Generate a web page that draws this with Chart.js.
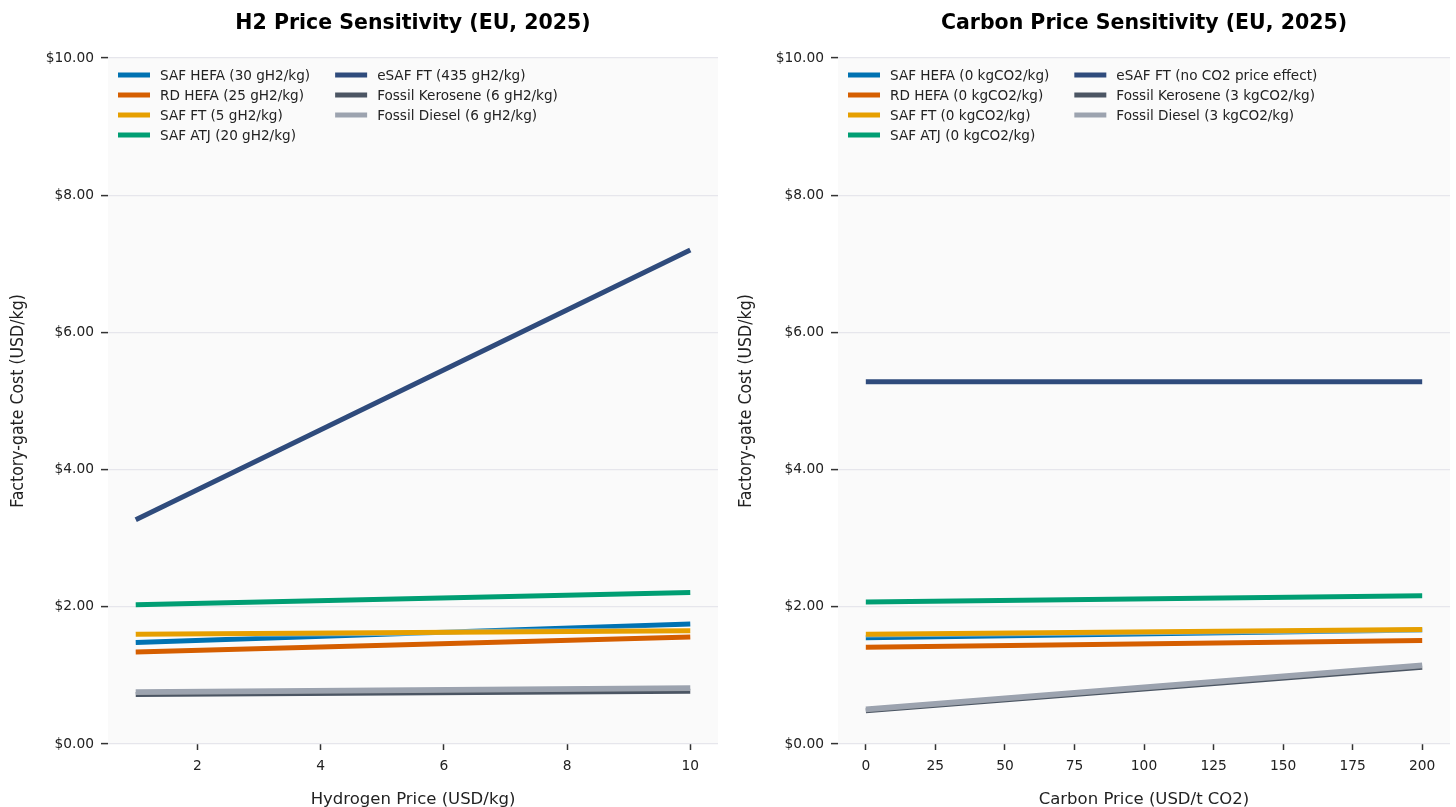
<!DOCTYPE html>
<html>
<head>
<meta charset="utf-8">
<title>H2 and Carbon Price Sensitivity</title>
<script src="https://cdn.jsdelivr.net/npm/chart.js@4.4.1/dist/chart.umd.min.js"></script>
<style>
  html, body { margin: 0; padding: 0; background: #ffffff; }
  #wrap { position: relative; width: 1456px; height: 807px; }
  canvas { position: absolute; top: 0; }
  #h2Chart { left: 0; }
  #co2Chart { left: 728px; }
</style>
</head>
<body>
<div id="wrap">
  <canvas id="h2Chart" width="728" height="807"></canvas>
  <canvas id="co2Chart" width="728" height="807"></canvas>
</div>
<script>
// Pathway names and colours
const pathways = ['SAF HEFA', 'RD HEFA', 'SAF FT', 'SAF ATJ', 'eSAF FT', 'Fossil Kerosene', 'Fossil Diesel'];
const colors = ['#0072B2', '#D55E00', '#E69F00', '#009E73', '#2F4B7C', '#4B5563', '#9CA3AF'];

// H2 sensitivity: legend labels, x points (USD/kg H2) and costs (USD/kg)
const h2Labels = ['SAF HEFA (30 gH2/kg)', 'RD HEFA (25 gH2/kg)', 'SAF FT (5 gH2/kg)', 'SAF ATJ (20 gH2/kg)',
                  'eSAF FT (435 gH2/kg)', 'Fossil Kerosene (6 gH2/kg)', 'Fossil Diesel (6 gH2/kg)'];
const h2Prices = [1, 10];
const h2SafHefa = [1.48, 1.75];
const h2RdHefa = [1.34, 1.56];
const h2SafFt = [1.60, 1.65];
const h2SafAtj = [2.03, 2.21];
const h2Esaf = [3.27, 7.20];
const h2Kerosene = [0.72, 0.77];
const h2Diesel = [0.76, 0.82];

// Carbon sensitivity: legend labels, x points (USD/t CO2) and costs (USD/kg)
const co2Labels = ['SAF HEFA (0 kgCO2/kg)', 'RD HEFA (0 kgCO2/kg)', 'SAF FT (0 kgCO2/kg)', 'SAF ATJ (0 kgCO2/kg)',
                   'eSAF FT (no CO2 price effect)', 'Fossil Kerosene (3 kgCO2/kg)', 'Fossil Diesel (3 kgCO2/kg)'];
const co2Prices = [0, 200];
const co2SafHefa = [1.55, 1.66];
const co2RdHefa = [1.41, 1.51];
const co2SafFt = [1.60, 1.67];
const co2SafAtj = [2.07, 2.16];
const co2Esaf = [5.28, 5.28];
const co2Kerosene = [0.485, 1.12];
const co2Diesel = [0.51, 1.15];

const yTicks = [0, 2, 4, 6, 8, 10];

const FONT = "'DejaVu Sans', sans-serif";
const TEXT = '#222222';

// plot background
const bgPlugin = {
    id: 'plotBg',
    beforeDraw(chart) {
        const a = chart.chartArea;
        const ctx = chart.ctx;
        ctx.save();
        ctx.fillStyle = '#fafafa';
        ctx.fillRect(a.left, a.top, a.right - a.left, a.bottom - a.top);
        ctx.restore();
    }
};

// faint light halo under each line, like the stroke effect of the original
const haloPlugin = {
    id: 'halo',
    beforeDatasetDraw(chart, args) {
        const ctx = chart.ctx;
        const pts = args.meta.data;
        if (pts.length < 2) return;
        ctx.save();
        ctx.strokeStyle = 'rgba(255,255,255,0.45)';
        ctx.lineWidth = 6.5;
        ctx.lineCap = 'butt';
        ctx.beginPath();
        pts.forEach((p, i) => (i === 0 ? ctx.moveTo(p.x, p.y) : ctx.lineTo(p.x, p.y)));
        ctx.stroke();
        ctx.restore();
    }
};

// two-column legend in the upper left of the plot, column by column
const legendPlugin = {
    id: 'colLegend',
    afterDraw(chart) {
        const a = chart.chartArea;
        const ctx = chart.ctx;
        const sets = chart.data.datasets;
        const rowH = 20;
        const sw = 32;
        ctx.save();
        ctx.font = '13.6px ' + FONT;
        let w1 = 0;
        for (let i = 0; i < 4; i++) w1 = Math.max(w1, ctx.measureText(sets[i].label).width);
        const x1 = a.left + 10;
        const x2 = x1 + sw + 10 + w1 + 25;
        ctx.textBaseline = 'middle';
        sets.forEach((ds, i) => {
            const col = i < 4 ? 0 : 1;
            const row = i < 4 ? i : i - 4;
            const x = col === 0 ? x1 : x2;
            const y = a.top + 17 + row * rowH;
            ctx.strokeStyle = ds.borderColor;
            ctx.lineWidth = 5;
            ctx.beginPath();
            ctx.moveTo(x, y);
            ctx.lineTo(x + sw, y);
            ctx.stroke();
            ctx.fillStyle = TEXT;
            ctx.fillText(ds.label, x + sw + 10, y + 1);
        });
        ctx.restore();
    }
};

function buildDatasets(labels, xs, series) {
    return series.map((ys, i) => ({
        label: labels[i],
        data: xs.map((x, j) => ({ x: x, y: ys[j] })),
        borderColor: colors[i],
        backgroundColor: colors[i],
        borderWidth: 5,
        borderCapStyle: 'butt',
        pointRadius: 0,
        tension: 0,
        order: -i
    }));
}

function makeChart(id, title, xTitle, datasets, xMin, xMax, xStep, yAxisWidth, rightPad) {
    return new Chart(document.getElementById(id), {
        type: 'line',
        data: { datasets: datasets },
        options: {
            responsive: false,
            animation: false,
            layout: { padding: { left: 0, right: rightPad, top: 0, bottom: 0 } },
            plugins: {
                legend: { display: false },
                tooltip: { enabled: false },
                title: {
                    display: true,
                    fullSize: false,
                    text: title,
                    color: '#000000',
                    font: { family: FONT, size: 20.5, weight: 'bold' },
                    padding: { top: 11, bottom: 22.4 }
                }
            },
            scales: {
                x: {
                    type: 'linear',
                    min: xMin,
                    max: xMax,
                    border: { display: false },
                    grid: { drawOnChartArea: false, drawTicks: true, tickLength: 6, tickColor: '#333333', tickWidth: 1.5 },
                    ticks: {
                        stepSize: xStep,
                        includeBounds: false,
                        autoSkip: false,
                        maxRotation: 0,
                        padding: 8,
                        color: TEXT,
                        font: { family: FONT, size: 13.8 }
                    },
                    title: {
                        display: true,
                        text: xTitle,
                        color: TEXT,
                        font: { family: FONT, size: 16.5 },
                        padding: { top: 0, bottom: -3 }
                    },
                    afterFit(scale) { scale.height = 63; }
                },
                y: {
                    min: 0,
                    max: 10,
                    border: { display: false },
                    afterBuildTicks(scale) { scale.ticks = yTicks.map(v => ({ value: v })); },
                    grid: { color: '#e6e6ec', lineWidth: 1.2, tickLength: 7, tickColor: '#333333', tickWidth: 1.5 },
                    ticks: {
                        padding: 7,
                        color: TEXT,
                        font: { family: FONT, size: 13.8 },
                        callback: v => '$' + Number(v).toFixed(2)
                    },
                    title: {
                        display: true,
                        text: 'Factory-gate Cost (USD/kg)',
                        color: TEXT,
                        font: { family: "'DejaVu Sans Condensed', 'Liberation Sans Narrow', " + FONT, size: 17.5 },
                        padding: { top: 8, bottom: 0 }
                    },
                    afterFit(scale) { scale.width = yAxisWidth; }
                }
            }
        },
        plugins: [bgPlugin, haloPlugin, legendPlugin]
    });
}

makeChart('h2Chart', 'H2 Price Sensitivity (EU, 2025)', 'Hydrogen Price (USD/kg)',
    buildDatasets(h2Labels, h2Prices, [h2SafHefa, h2RdHefa, h2SafFt, h2SafAtj, h2Esaf, h2Kerosene, h2Diesel]),
    0.55, 10.45, 2, 108, 10);

makeChart('co2Chart', 'Carbon Price Sensitivity (EU, 2025)', 'Carbon Price (USD/t CO2)',
    buildDatasets(co2Labels, co2Prices, [co2SafHefa, co2RdHefa, co2SafFt, co2SafAtj, co2Esaf, co2Kerosene, co2Diesel]),
    -10, 210, 25, 110, 6);
</script>
</body>
</html>
